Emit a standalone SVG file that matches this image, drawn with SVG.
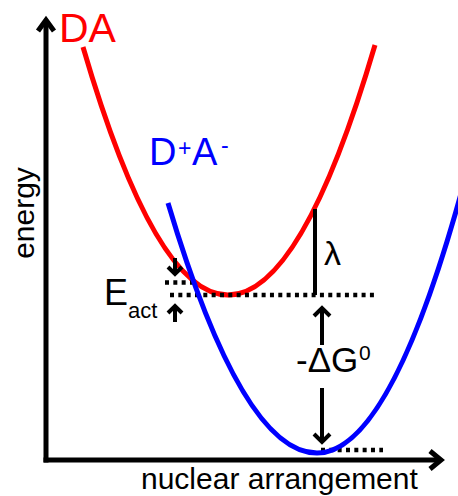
<svg xmlns="http://www.w3.org/2000/svg" width="458" height="496" viewBox="0 0 458 496">
<style>
.t{font-family:"Liberation Sans",Arial,sans-serif;fill:#000}
.curve{fill:none;stroke-width:5;stroke-linecap:butt}
.dots{fill:none;stroke:#000;stroke-width:4.5;stroke-dasharray:4 4.33}
.ln{fill:none;stroke:#000;stroke-width:4;stroke-linejoin:miter}
.ax{fill:none;stroke:#000;stroke-width:5}
</style>
<rect width="458" height="496" fill="#fff"/>
<g id="DA-curve">
<path class="curve" stroke="#ff0000" d="M83,47 Q155.5,295 228,295 Q301.5,295 375,45"/>
<text class="t" x="59" y="42" font-size="41" style="fill:#ff0000">DA</text>
</g>
<g id="levels">
<path class="dots" d="M165,282.5 H198"/>
<path class="dots" d="M170,295 H375"/>
<path class="dots" d="M321,450 H383"/>
</g>
<g id="DpAm-curve">
<path class="curve" stroke="#0000ff" d="M168,203 Q242.5,453 317,453 Q389.5,453 462,190"/>
<text class="t" x="149" y="165" font-size="38" style="fill:#0000ff">D</text>
<text class="t" x="178" y="156" font-size="23" style="fill:#0000ff">+</text>
<text class="t" x="192" y="165" font-size="38" style="fill:#0000ff">A</text>
<text class="t" x="221" y="153" font-size="23" style="fill:#0000ff">-</text>
</g>
<g id="axes">
<path class="ax" d="M46,462.5 V21"/>
<path class="ax" d="M43.5,460 H439"/>
<path class="ax" d="M38,31 L46,20 L54,31"/>
<path class="ax" d="M430,451 L441,460 L430,469"/>
<text class="t" font-size="30" text-anchor="middle" transform="translate(34,213) rotate(-90)">energy</text>
<text class="t" x="141" y="489" font-size="30">nuclear arrangement</text>
</g>
<g id="connectors">
<path class="ln" d="M315,209 V295" stroke-width="4.5"/>
<path class="ln" d="M175,258 V274"/>
<path class="ln" d="M168,267 L175,274 L182,267"/>
<path class="ln" d="M175,322 V306"/>
<path class="ln" d="M168,313 L175,306 L182,313"/>
<path class="ln" d="M322,345 V308"/>
<path class="ln" d="M314,316 L322,308 L330,316"/>
<path class="ln" d="M322,388 V442"/>
<path class="ln" d="M314,434 L322,442 L330,434"/>
</g>
<g id="labels">
<text class="t" x="324" y="265" font-size="34">λ</text>
<text class="t" x="296" y="372" font-size="35">-ΔG</text>
<text class="t" x="359" y="360" font-size="21">0</text>
<text class="t" x="104" y="305" font-size="36">E</text>
<text class="t" x="128" y="318" font-size="22">act</text>
</g>
</svg>
